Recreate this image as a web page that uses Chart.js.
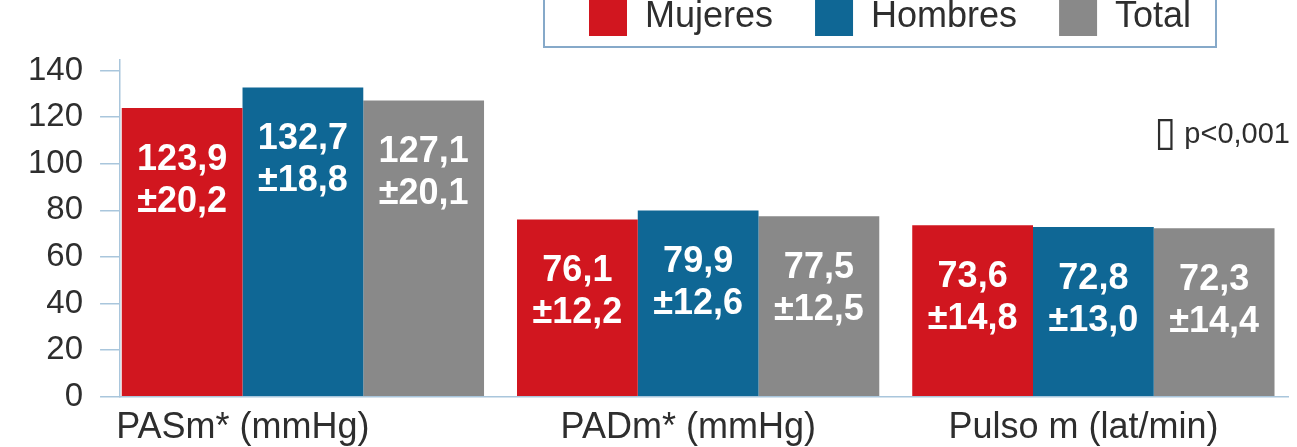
<!DOCTYPE html>
<html lang="es">
<head>
<meta charset="UTF-8">
<title>Presión arterial y pulso por sexo</title>
<script src="https://cdn.jsdelivr.net/npm/chart.js"></script>
<style>
  body { margin: 0; background: #fff; overflow: hidden; }
  #marco { position: relative; width: 1297px; height: 447px; overflow: hidden; }
  #grafico { position: absolute; left: 0; top: -45px; }
</style>
</head>
<body>
<div id="marco"><canvas id="grafico" width="1297" height="504"></canvas></div>
<script>
  const categorias = ['PASm* (mmHg)', 'PADm* (mmHg)', 'Pulso m (lat/min)'];
  const mujeres = [123.9, 76.1, 73.6];
  const mujeresDE = [20.2, 12.2, 14.8];
  const hombres = [132.7, 79.9, 72.8];
  const hombresDE = [18.8, 12.6, 13.0];
  const total = [127.1, 77.5, 72.3];
  const totalDE = [20.1, 12.5, 14.4];
  const ticksY = [0, 20, 40, 60, 80, 100, 120, 140];
  const simbolo = '\u25AF';
  const nota = 'p<0,001';

  // desplazamiento de las etiquetas del eje x (en unidades de categoria)
  const desplazamiento = [-0.152, -0.025, -0.025];

  const rojo = '#d1161f';
  const azul = '#0f6795';
  const gris = '#898989';
  const lineaEje = '#a9c6dc';
  const texto = '#2e2e2e';
  const familia = "'Liberation Sans', Arial, 'DejaVu Sans', sans-serif";

  const fmt = v => v.toFixed(1).replace('.', ',');
  const puntos = arr => arr.map((v, i) => ({ x: i, y: v }));

  const etiquetas = {
    id: 'etiquetas',
    afterDatasetsDraw(chart) {
      const ctx = chart.ctx;
      ctx.save();
      ctx.fillStyle = '#fff';
      ctx.font = 'bold 36px ' + familia;
      ctx.textAlign = 'center';
      ctx.textBaseline = 'middle';
      chart.data.datasets.forEach((ds, d) => {
        chart.getDatasetMeta(d).data.forEach((bar, i) => {
          ctx.fillText(fmt(ds.data[i].y), bar.x, bar.y + 52);
          ctx.fillText('\u00B1' + fmt(ds.de[i]), bar.x, bar.y + 94);
        });
      });
      ctx.restore();
    }
  };

  const cajaLeyenda = {
    id: 'cajaLeyenda',
    afterLayout(chart) {
      chart.legend.left = 547;
      chart.legend.top += 2;
    },
    afterDraw(chart) {
      const ctx = chart.ctx;
      const a = chart.chartArea;
      ctx.save();
      ctx.strokeStyle = '#86a9c9';
      ctx.lineWidth = 2;
      ctx.strokeRect(544, -10, 672, 102);
      // nota de significacion
      ctx.fillStyle = texto;
      ctx.font = '29px ' + familia;
      ctx.textAlign = 'right';
      ctx.textBaseline = 'alphabetic';
      const xNota = a.right + 2;
      const yNota = a.top + 83;
      ctx.fillText(nota, xNota, yNota);
      const ancho = ctx.measureText(nota).width;
      ctx.font = "40px 'DejaVu Sans', sans-serif";
      ctx.fillText(simbolo, xNota - ancho - 8, yNota + 2);
      ctx.restore();
    }
  };

  new Chart(document.getElementById('grafico'), {
    type: 'bar',
    data: {
      datasets: [
        { label: 'Mujeres', data: puntos(mujeres), de: mujeresDE, backgroundColor: rojo, borderWidth: 0 },
        { label: 'Hombres', data: puntos(hombres), de: hombresDE, backgroundColor: azul, borderWidth: 0 },
        { label: 'Total', data: puntos(total), de: totalDE, backgroundColor: gris, borderWidth: 0 }
      ]
    },
    options: {
      responsive: false,
      animation: false,
      devicePixelRatio: 1,
      layout: { padding: { left: 11, right: 9, top: 0, bottom: 0 } },
      datasets: { bar: { categoryPercentage: 0.9166, barPercentage: 1 } },
      plugins: {
        legend: {
          position: 'top',
          align: 'start',
          labels: {
            boxWidth: 38,
            boxHeight: 37,
            padding: 42,
            color: texto,
            font: { size: 36, family: familia }
          }
        },
        // espacio vacio entre la leyenda y el area del grafico
        title: { display: true, text: '', weight: 500, padding: 0, font: { size: 16, lineHeight: 1 } },
        tooltip: { enabled: false }
      },
      scales: {
        x: {
          type: 'linear',
          min: -0.4626,
          max: 2.4924,
          offset: false,
          grid: { display: true, drawOnChartArea: false, drawTicks: false },
          border: { color: lineaEje, width: 1.5 },
          afterBuildTicks: s => { s.ticks = categorias.map((c, i) => ({ value: i + desplazamiento[i] })); },
          ticks: {
            autoSkip: false,
            maxRotation: 0,
            padding: 9.5,
            color: texto,
            font: { size: 36, family: familia },
            callback: v => categorias[Math.round(v)]
          }
        },
        y: {
          min: 0,
          max: 144.5,
          afterBuildTicks: s => { s.ticks = ticksY.map(v => ({ value: v })); },
          grid: { drawOnChartArea: false, tickLength: 20, color: lineaEje, lineWidth: 1.5 },
          border: { color: lineaEje, width: 1.5 },
          ticks: { padding: 17, color: texto, font: { size: 33, family: familia } }
        }
      }
    },
    plugins: [etiquetas, cajaLeyenda]
  });
</script>
</body>
</html>
